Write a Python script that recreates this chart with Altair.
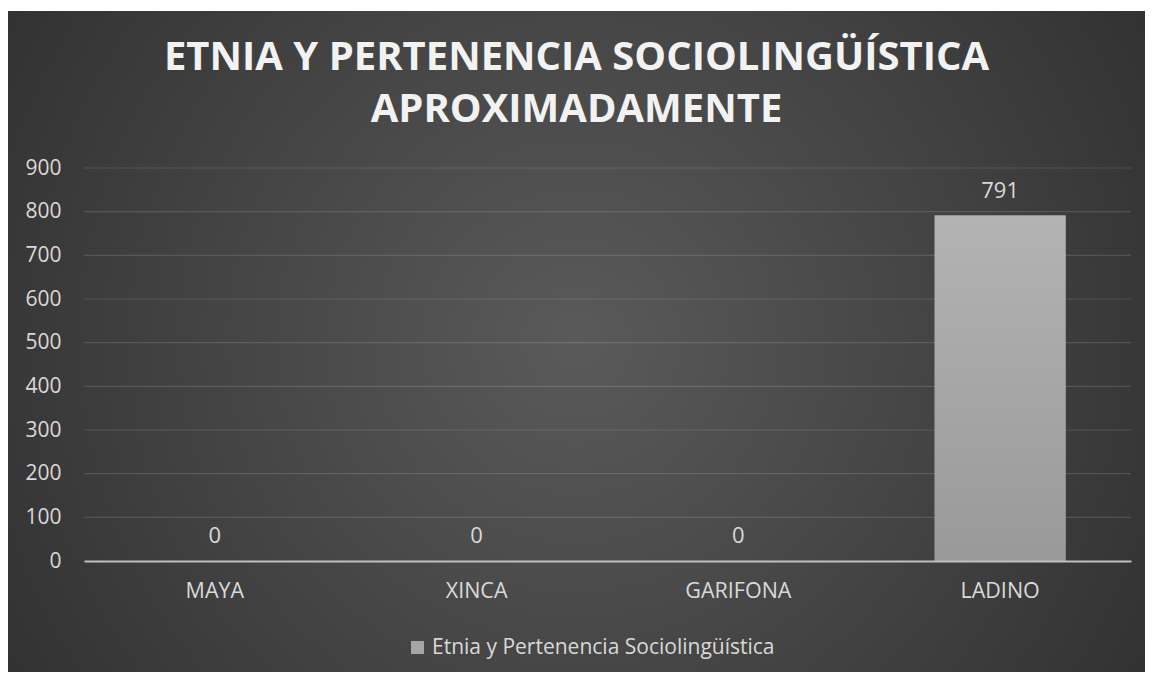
import altair as alt
import pandas as pd

categories = ["MAYA", "XINCA", "GARIFONA", "LADINO"]
values = [0, 0, 0, 791]
series_name = "Etnia y Pertenencia Sociolingüística"
y_ticks = [0, 100, 200, 300, 400, 500, 600, 700, 800, 900]
grid_ticks = [100, 200, 300, 400, 500, 600, 700, 800, 900]
title_lines = ["ETNIA Y PERTENENCIA SOCIOLINGÜÍSTICA", "APROXIMADAMENTE"]

W, H = 1047, 393
FONT = "Open Sans"
LABEL = "#d9d9d9"
BG_TOP = -157

df = pd.DataFrame({"cat": categories, "val": values, "serie": [series_name] * len(categories)})
grid_df = pd.DataFrame({"v": grid_ticks})
bg_df = pd.DataFrame({"a": [0]})

bg = alt.Chart(bg_df).mark_rect(
    fill=alt.RadialGradient(
        gradient="radial", x1=0.5, y1=0.5, r1=0, x2=0.5, y2=0.5, r2=0.75,
        stops=[alt.GradientStop(color="#5a5a5a", offset=0),
               alt.GradientStop(color="#262626", offset=1)]
    )
).encode(x=alt.value(-76), x2=alt.value(W + 14), y=alt.value(BG_TOP), y2=alt.value(H + 111))

yscale = alt.Scale(domain=[0, 900])
yaxis = alt.Axis(values=y_ticks, grid=False, domain=False, ticks=False,
                 labelFontSize=21, labelColor=LABEL, labelFont=FONT, labelPadding=23,
                 zindex=1)

grid = alt.Chart(grid_df).mark_rule(color="#ffffff", opacity=0.13, strokeWidth=1.2).encode(
    y=alt.Y("v:Q", scale=yscale, axis=yaxis, title=None),
    x=alt.value(0), x2=alt.value(W)
)

xenc = alt.X("cat:N", sort=categories, title=None,
             scale=alt.Scale(paddingInner=0.5, paddingOuter=0.25),
             axis=alt.Axis(labelAngle=0, labelFontSize=21.5, labelColor=LABEL, labelFont=FONT,
                           labelPadding=19, ticks=False, domainColor="#bfbfbf", domainWidth=2,
                           grid=False, zindex=1))
yenc = alt.Y("val:Q", scale=yscale, title=None, axis=yaxis)

bars = alt.Chart(df).mark_bar().encode(
    x=xenc, y=yenc,
    color=alt.Color("serie:N", scale=alt.Scale(range=["#a6a6a6"]),
                    legend=alt.Legend(title=None, orient="none", legendX=323, legendY=469,
                                      symbolType="square", symbolSize=170, symbolStrokeWidth=0,
                                      labelFontSize=21, labelColor=LABEL, labelFont=FONT,
                                      labelOffset=4, padding=0, labelLimit=800))
)

bars_grad = alt.Chart(df).mark_bar(
    fill=alt.LinearGradient(
        gradient="linear", x1=0, y1=0, x2=0, y2=1,
        stops=[alt.GradientStop(color="#b3b3b3", offset=0),
               alt.GradientStop(color="#999999", offset=1)]
    )
).encode(x=alt.X("cat:N", sort=categories), y=alt.Y("val:Q"))

labels = alt.Chart(df).mark_text(
    dy=-18, baseline="alphabetic", fontSize=22, color=LABEL, font=FONT
).encode(x=alt.X("cat:N", sort=categories), y=alt.Y("val:Q"), text=alt.Text("val:Q"))

chart = alt.layer(bg, grid, bars, bars_grad, labels).properties(
    width=W, height=H,
    padding={"left": 76, "top": 160, "right": 14, "bottom": 111},
    autosize=alt.AutoSizeParams(type="none"),
    background="white",
    title=alt.TitleParams(text=title_lines, font=FONT, fontSize=40, fontWeight="bold",
                          color="#f2f2f2", anchor="middle", frame="bounds",
                          baseline="bottom", lineHeight=52, offset=0, dy=159)
).configure_view(stroke=None)

chart.save("out.html", embed_options={"renderer": "svg", "actions": False})
